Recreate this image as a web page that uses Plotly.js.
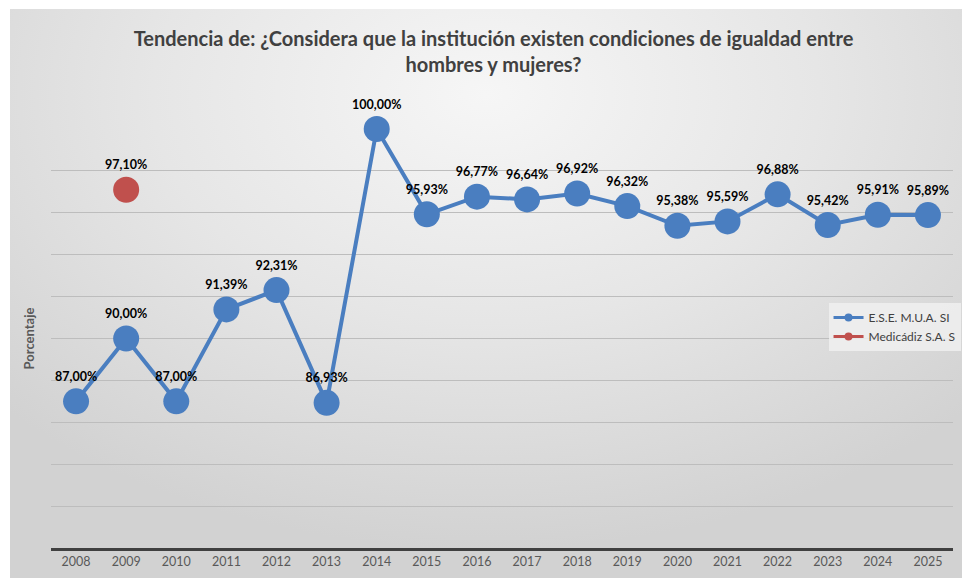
<!DOCTYPE html>
<html>
<head>
<meta charset="utf-8">
<script src="https://cdn.plot.ly/plotly-3.0.1.min.js"></script>
<style>
  html, body { margin:0; padding:0; background:#ffffff; width:962px; height:578px; overflow:hidden; }
  #bg { position:absolute; left:10px; top:9px; width:952px; height:569px;
        background: radial-gradient(ellipse 70% 80% at 50% 15%, #f6f6f6 0%, #e6e6e6 50%, #d2d2d2 100%); }
  #chart { position:absolute; left:0; top:0; width:962px; height:578px; }
</style>
</head>
<body>
<div id="bg"></div>
<div id="chart"></div>
<script>
const years = ['2008','2009','2010','2011','2012','2013','2014','2015','2016','2017','2018','2019','2020','2021','2022','2023','2024','2025'];
const eseValues = [87.00, 90.00, 87.00, 91.39, 92.31, 86.93, 100.00, 95.93, 96.77, 96.64, 96.92, 96.32, 95.38, 95.59, 96.88, 95.42, 95.91, 95.89];
const medYears = ['2009'];
const medValues = [97.10];
const seriesNames = ['E.S.E. M.U.A. SI', 'Medicádiz S.A. S'];
const blue = '#4a7ec0';
const red = '#c0504d';

const fmt = v => v.toFixed(2).replace('.', ',') + '%';

const labelFont = {family: 'Lato, "Open Sans", sans-serif', size: 12.5, color: '#000000', weight: 'bold'};

const traces = [
  {
    x: years, y: eseValues, type: 'scatter', mode: 'lines+markers+text',
    name: seriesNames[0], showlegend: false,
    line: {color: blue, width: 4},
    marker: {color: blue, size: 26},
    text: eseValues.map(fmt), textposition: 'top center',
    textfont: labelFont, cliponaxis: false, hoverinfo: 'x+y'
  },
  {
    x: medYears, y: medValues, type: 'scatter', mode: 'lines+markers+text',
    name: seriesNames[1], showlegend: false,
    line: {color: red, width: 4},
    marker: {color: red, size: 26},
    text: medValues.map(fmt), textposition: 'top center',
    textfont: labelFont, cliponaxis: false, hoverinfo: 'x+y'
  },
  { x: [years[0]], y: [null], type: 'scatter', mode: 'lines+markers', name: seriesNames[0],
    line: {color: blue, width: 3}, marker: {color: blue, size: 8} },
  { x: [years[0]], y: [null], type: 'scatter', mode: 'lines+markers', name: seriesNames[1],
    line: {color: red, width: 3}, marker: {color: red, size: 8} }
];

const layout = {
  width: 962, height: 578,
  paper_bgcolor: 'rgba(0,0,0,0)', plot_bgcolor: 'rgba(0,0,0,0)',
  margin: {l: 51, r: 9, t: 129, b: 30, autoexpand: false},
  font: {family: 'Lato, "Open Sans", sans-serif', color: '#595959'},
  title: {
    text: 'Tendencia de: ¿Considera que la institución existen condiciones de igualdad entre<br>hombres y mujeres?',
    font: {family: 'Lato, "Open Sans", sans-serif', size: 20, color: '#404040', weight: 'bold'},
    x: 0.513, xref: 'container', xanchor: 'center',
    y: 0.92, yref: 'container', yanchor: 'top'
  },
  xaxis: {
    type: 'category', categoryorder: 'array', categoryarray: years,
    range: [-0.5, 17.5], autorange: false,
    showgrid: false, showline: true, linecolor: '#404040', linewidth: 3,
    ticks: '', tickfont: {size: 12.5, color: '#595959'}, fixedrange: true
  },
  yaxis: {
    range: [80, 100], autorange: false, dtick: 2, tick0: 80,
    showticklabels: false, ticks: '',
    showgrid: true, gridcolor: '#bdbdbd', gridwidth: 1, zeroline: false,
    showline: false, fixedrange: true,
    title: {text: 'Porcentaje', font: {size: 13, color: '#595959', weight: 'bold'}, standoff: 12}
  },
  legend: {
    x: 0.862, xanchor: 'left', y: 0.585, yanchor: 'top',
    bgcolor: 'rgba(240,240,240,0.85)', borderwidth: 0,
    font: {size: 12, color: '#404040'}, tracegroupgap: 4, itemwidth: 30
  },
  showlegend: true
};

Plotly.newPlot('chart', traces, layout, {displayModeBar: false, staticPlot: true});
</script>
</body>
</html>
